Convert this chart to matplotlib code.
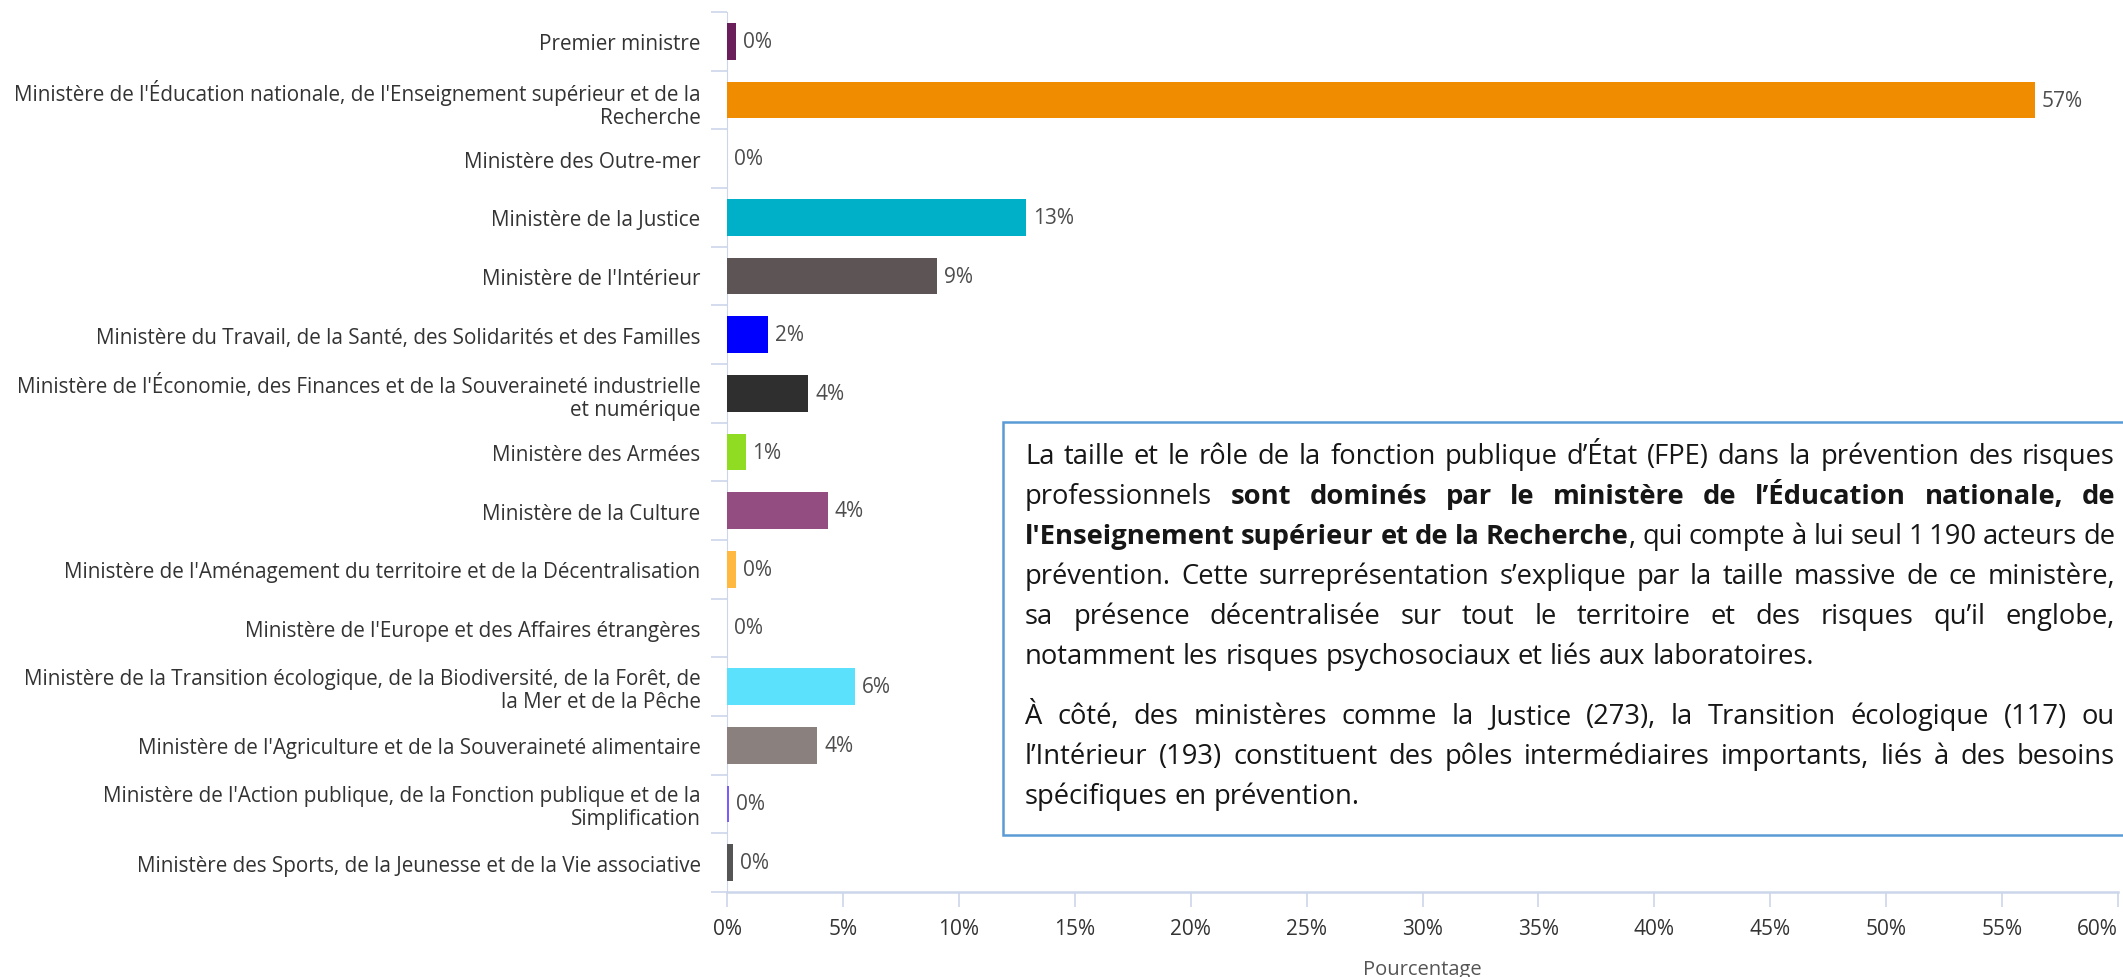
import numpy as np
import matplotlib
matplotlib.use('Agg')
import matplotlib.pyplot as plt
from matplotlib.patches import Rectangle
from matplotlib.font_manager import FontProperties

plt.rcParams['font.family'] = ['Open Sans', 'DejaVu Sans']

CATEGORIES = [
    "Premier ministre",
    "Ministère de l'Éducation nationale, de l'Enseignement supérieur et de la\nRecherche",
    "Ministère des Outre-mer",
    "Ministère de la Justice",
    "Ministère de l'Intérieur",
    "Ministère du Travail, de la Santé, des Solidarités et des Familles",
    "Ministère de l'Économie, des Finances et de la Souveraineté industrielle\net numérique",
    "Ministère des Armées",
    "Ministère de la Culture",
    "Ministère de l'Aménagement du territoire et de la Décentralisation",
    "Ministère de l'Europe et des Affaires étrangères",
    "Ministère de la Transition écologique, de la Biodiversité, de la Forêt, de\nla Mer et de la Pêche",
    "Ministère de l'Agriculture et de la Souveraineté alimentaire",
    "Ministère de l'Action publique, de la Fonction publique et de la\nSimplification",
    "Ministère des Sports, de la Jeunesse et de la Vie associative",
]
VALUES = [0.4, 56.4, 0.0, 12.9, 9.05, 1.75, 3.5, 0.8, 4.35, 0.4, 0.0, 5.5, 3.9, 0.1, 0.25]
VALUE_LABELS = ["0%", "57%", "0%", "13%", "9%", "2%", "4%", "1%", "4%", "0%", "0%", "6%", "4%", "0%", "0%"]
COLORS = ["#6a1f5b", "#f08c00", "#ffffff", "#00b0c8", "#5d5455", "#0000ff", "#2f2f2f", "#8fdc22",
          "#944d80", "#ffb940", "#ffffff", "#5ce1fd", "#8a807e", "#7b5cff", "#555555"]
X_TICKS = list(range(0, 65, 5))

# paragraph text: each line is a list of words, each word a list of (text, bold)
def words(s, bold=False):
    return [[(w, bold)] for w in s.split(' ')]

line2 = words("professionnels") + words("sont dominés par le ministère de l’Éducation nationale, de", True)
line3 = words("l'Enseignement supérieur et de la", True) + [[("Recherche", True), (",", False)]] \
    + words("qui compte à lui seul 1\u2009190 acteurs de")
TEXT_LINES = [
    (words("La taille et le rôle de la fonction publique d’État (FPE) dans la prévention des risques"), True),
    (line2, True),
    (line3, True),
    (words("prévention. Cette surreprésentation s’explique par la taille massive de ce ministère,"), True),
    (words("sa présence décentralisée sur tout le territoire et des risques qu’il englobe,"), True),
    (words("notamment les risques psychosociaux et liés aux laboratoires."), False),
    (words("À côté, des ministères comme la Justice (273), la Transition écologique (117) ou"), True),
    (words("l’Intérieur (193) constituent des pôles intermédiaires importants, liés à des besoins"), True),
    (words("spécifiques en prévention."), False),
]
BASELINES = [464, 504, 544, 584, 624, 664, 724, 764, 804]

W, H = 2123, 978
fig = plt.figure(figsize=(W / 100, H / 100), dpi=100)
ax = fig.add_axes([727 / W, 1 - 893 / H, (2118 - 727) / W, 880 / H])

n = len(CATEGORIES)
y = np.arange(n)
ax.barh(y, VALUES, height=0.63, color=COLORS, edgecolor='none', zorder=3)
for yi, v, lab in zip(y, VALUES, VALUE_LABELS):
    ax.annotate(lab, (v, yi), xytext=(7, 0), textcoords='offset pixels',
                va='center', ha='left', fontsize=15, color='#4d4d4d')

ax.set_ylim(n - 0.5, -0.5)
ax.set_xlim(0, 60)
ax.set_yticks(y)
ax.set_yticklabels(CATEGORIES, fontsize=14.9, color='#333333', linespacing=1.1)
ax.set_yticks(np.arange(n + 1) - 0.5, minor=True)
ax.tick_params(axis='y', which='major', length=0, pad=19)
ax.tick_params(axis='y', which='minor', length=11.5, color='#ccd6eb', width=1.2)
ax.set_xticks(X_TICKS)
ax.set_xticklabels([f"{t}%" for t in X_TICKS], fontsize=15, color='#333333')
ax.tick_params(axis='x', length=10.8, color='#ccd6eb', width=1.2, pad=8)
ax.get_xticklabels()[-1].set_ha('right')
ax.set_xlabel("Pourcentage", fontsize=14.5, color='#555555', labelpad=14)

for s in ['top', 'right']:
    ax.spines[s].set_visible(False)
ax.spines['left'].set_color('#ccd6eb')
ax.spines['bottom'].set_color('#ccd6eb')
ax.spines['bottom'].set_linewidth(1.8)

# comment box
box = Rectangle((1003 / W, 1 - 836 / H), (W + 10 - 1003) / W, (836 - 423) / H,
                transform=fig.transFigure, facecolor='white', edgecolor='#5b9bd5',
                linewidth=1.8, zorder=10, clip_on=False)
fig.patches.append(box)

r = fig.canvas.get_renderer()
size = 19.7
fp = {False: FontProperties(family=['Open Sans', 'DejaVu Sans'], size=size),
      True: FontProperties(family=['Open Sans', 'DejaVu Sans'], size=size, weight='bold')}


def tw(s, bold):
    return r.get_text_width_height_descent(s, fp[bold], ismath=False)[0]


space = tw("a a", False) - tw("aa", False)
x0, x1 = 1025, 2115
for (line, just), yb in zip(TEXT_LINES, BASELINES):
    widths = [sum(tw(t, b) for t, b in wd) for wd in line]
    if just and len(line) > 1:
        gap = (x1 - x0 - sum(widths)) / (len(line) - 1)
    else:
        gap = space
    x = x0
    for wd, wdw in zip(line, widths):
        xx = x
        for t, b in wd:
            fig.text(xx / W, 1 - yb / H, t, fontproperties=fp[b], color='#161616',
                     va='baseline', ha='left', zorder=11)
            xx += tw(t, b)
        x += wdw + gap

fig.savefig('out.png', dpi=100)
